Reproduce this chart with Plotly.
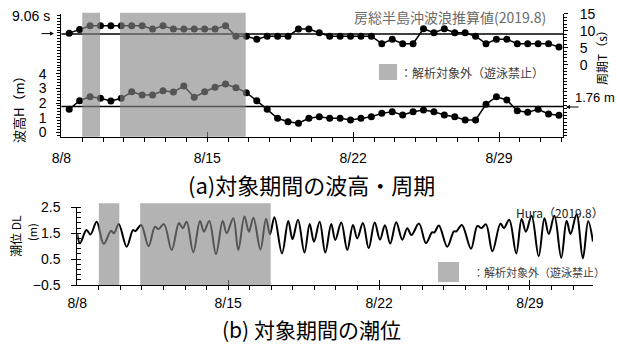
import plotly.graph_objects as go
import pandas as pd

# ---------------- data ----------------
# wave hindcast, every 12 h from 2019-08-08 09:00
wave_start = "2019-08-08 09:00"
wave_count = 48
period_T = [9.3, 10.4, 11.5, 11.5, 11.5, 11.5, 11.5, 11.5, 10.5, 11.5, 10.5, 10.5,
            10.5, 10.5, 10.5, 11.5, 8.4, 8.4, 7.5, 8.4, 8.4, 8.4, 10.5, 10.5,
            9.4, 8.4, 8.4, 8.4, 8.4, 8.4, 6.2, 7.5, 6.2, 6.2, 10.6, 9.4,
            10.6, 9.4, 9.4, 8.4, 6.2, 7.5, 7.5, 6.2, 6.2, 6.2, 6.2, 5.2]
height_H = [1.57, 2.16, 2.43, 2.32, 2.14, 2.32, 2.77, 2.55, 2.55, 2.84, 2.75, 3.16,
            2.39, 2.77, 3.08, 3.30, 3.05, 2.71, 2.16, 1.57, 0.95, 0.72, 0.61, 0.95,
            1.06, 0.95, 0.95, 0.84, 0.95, 1.06, 1.29, 1.40, 1.18, 1.40, 1.52, 1.40,
            1.18, 1.06, 0.84, 0.84, 1.91, 2.43, 2.21, 1.47, 1.36, 1.57, 1.25, 1.16]
mean_T = 9.06
mean_H = 1.76

# tide level (DL, m): turning points, hours after 2019-08-08 00:00
tide_hours = [0, 3.0, 10.2, 14.7, 21.6, 29.4, 37.5, 40.9, 46.1, 55.0, 62.0, 64.8,
              71.1, 79.3, 86.5, 90.4, 96.5, 105.1, 113.2, 117.3, 121.8, 129.1, 136.6, 141.0,
              146.9, 154.4, 161.9, 166.3, 173.7, 179.2, 186.1, 191.1, 196.1, 203.9, 210.1, 214.5,
              219.5, 227.9, 234.9, 239.6, 245.7, 252.9, 258.7, 263.5, 269.8, 276.1, 282.7, 287.2,
              293.9, 300.6, 306.9, 311.7, 318.0, 324.4, 331.1, 337.0, 342.5, 348.4, 355.1, 361.8,
              367.4, 372.0, 380.4, 388.2, 394.9, 397.6, 402.6, 411.9, 419.3, 422.1, 428.2, 438.3,
              445.5, 450.0, 455.0, 462.2, 471.1, 475.0, 480.9, 488.7, 494.7, 499.5, 505.8, 513.7,
              520.1, 524.9, 531.2, 538.8, 544.8, 549.2, 555.9, 562.9, 568.8, 574.1]
tide_level = [1.46, 1.11, 1.62, 1.45, 1.94, 1.09, 1.59, 1.50, 1.86, 0.98, 1.62, 1.58,
              1.82, 1.00, 1.75, 1.66, 1.85, 0.85, 1.89, 1.69, 1.94, 0.76, 1.97, 1.56,
              1.97, 0.70, 1.97, 1.50, 2.08, 0.85, 2.14, 1.56, 2.10, 0.87, 2.06, 1.46,
              2.12, 0.72, 1.97, 1.27, 2.02, 0.75, 1.86, 1.17, 1.94, 0.75, 1.86, 1.24,
              1.91, 0.85, 1.82, 1.30, 1.89, 0.92, 1.91, 1.25, 1.81, 1.10, 1.92, 1.25,
              1.69, 1.43, 1.87, 1.12, 1.53, 1.53, 1.80, 0.98, 1.57, 1.57, 1.82, 0.90,
              1.78, 1.70, 1.84, 0.80, 1.87, 1.70, 2.02, 0.72, 2.05, 1.56, 2.17, 0.61,
              2.08, 1.47, 2.17, 0.55, 1.98, 1.47, 2.23, 0.53, 1.96, 1.18]
tide_origin = "2019-08-08 00:00"

# excluded periods (swimming prohibited)
shade_wave = [("2019-08-09 00:00", "2019-08-09 20:30"), ("2019-08-10 19:30", "2019-08-16 20:15")]
shade_tide = [("2019-08-09 00:00", "2019-08-09 22:45"), ("2019-08-10 22:00", "2019-08-16 23:20")]

H_ticks = [0, 1, 2, 3, 4]
T_ticks = [0, 5, 10, 15]
tide_ticks = [-0.5, 0.5, 1.5, 2.5]

# ---------------- layout helpers ----------------
W, Hh = 617, 345
def px(x): return x / W
def py(y): return 1 - y / Hh

FONT = "Liberation Sans, Arial, Noto Sans CJK JP"
JFONT = "Noto Sans CJK JP, Liberation Sans"

wave_times = pd.date_range(wave_start, periods=wave_count, freq="12h")
tide_times = pd.Timestamp(tide_origin) + pd.to_timedelta(tide_hours, unit="h")

fig = go.Figure()
mk = dict(symbol="circle", size=7, color="black")
fig.add_trace(go.Scatter(x=wave_times, y=period_T, mode="lines+markers", marker=mk,
                         line=dict(color="black", width=1.5), xaxis="x", yaxis="y2",
                         showlegend=False))
fig.add_trace(go.Scatter(x=wave_times, y=height_H, mode="lines+markers", marker=mk,
                         line=dict(color="black", width=1.5), xaxis="x", yaxis="y",
                         showlegend=False))
fig.add_trace(go.Scatter(x=tide_times, y=tide_level, mode="lines",
                         line=dict(color="black", width=2, shape="spline", smoothing=1.0),
                         xaxis="x2", yaxis="y3", showlegend=False))

shapes = []
# mean lines
shapes.append(dict(type="line", xref="x domain", x0=0, x1=1, yref="y2", y0=mean_T, y1=mean_T,
                   line=dict(color="black", width=1.6), layer="below"))
shapes.append(dict(type="line", xref="x domain", x0=0, x1=1, yref="y", y0=mean_H, y1=mean_H,
                   line=dict(color="black", width=1.6), layer="below"))
SH = "rgba(135,135,135,0.63)"
for a, b in shade_wave:
    shapes.append(dict(type="rect", xref="x", x0=a, x1=b, yref="paper", y0=py(136.7), y1=py(12.7),
                       fillcolor=SH, line=dict(width=0), layer="above"))
for a, b in shade_tide:
    shapes.append(dict(type="rect", xref="x2", x0=a, x1=b, yref="paper", y0=py(285), y1=py(203.3),
                       fillcolor=SH, line=dict(width=0), layer="above"))
# legend swatches
shapes.append(dict(type="rect", xref="paper", yref="paper", x0=px(379), x1=px(397), y0=py(80), y1=py(64),
                   fillcolor="#b4b4b4", line=dict(width=0)))
shapes.append(dict(type="rect", xref="paper", yref="paper", x0=px(438), x1=px(459), y0=py(282), y1=py(262),
                   fillcolor="#b4b4b4", line=dict(width=0)))

ann = []
def A(text, x, y, size=13, color="black", xa="center", angle=0, family=JFONT, ya="middle"):
    ann.append(dict(text=text, x=px(x), y=py(y), xref="paper", yref="paper", showarrow=False,
                    xanchor=xa, yanchor=ya, textangle=angle,
                    font=dict(size=size, color=color, family=family)))

A("房総半島沖波浪推算値(2019.8)", 548, 17, 14, "#6a6a6a", "right")
A("：解析対象外（遊泳禁止）", 398, 72.5, 12, "#3c3c3c", "left")
A("9.06 s", 31, 16, 14, "black", "center", family=FONT)
A("1.76 m", 595, 97, 13, "black", "center", family=FONT)
A("波高H（m）", 18, 106, 13, "black", "center", -90)
A("周期T（s）", 601, 55, 12, "black", "center", -90)
A("(a)対象期間の波高・周期", 311, 184, 22, "black", "center")
A("潮位 DL", 15, 236, 12, "black", "center", -90)
A("(m)", 32, 232, 11, "black", "center", -90)
A("Hura（2019.8）", 606, 212, 12, "#222222", "right")
A("：解析対象外（遊泳禁止）", 471, 272, 11, "#3c3c3c", "left")
A("(b) 対象期間の潮位", 312, 328.5, 21, "black", "center")
# arrows
ann.append(dict(text="", x=px(54), y=py(33.6), xref="paper", yref="paper", showarrow=True,
                ax=-14, ay=0, arrowhead=2, arrowsize=0.8, arrowwidth=1, arrowcolor="black"))
ann.append(dict(text="", x=px(566), y=py(107), xref="paper", yref="paper", showarrow=True,
                ax=14, ay=0, arrowhead=2, arrowsize=0.8, arrowwidth=1, arrowcolor="black"))

DAY = 86400000
def xaxis_style(standoff):
    return dict(type="date", tickformat="%-m/%-d", tick0="2019-08-08", dtick=7 * DAY,
                showline=True, linecolor="black", linewidth=1, ticks="inside", ticklen=5,
                tickcolor="black", showgrid=False, zeroline=False, automargin=False,
                minor=dict(ticks="outside", ticklen=4, dtick=DAY, tick0="2019-08-08",
                           tickcolor="black", showgrid=False),
                tickfont=dict(family=FONT, size=14, color="black"), ticklabelstandoff=standoff)

fig.update_layout(
    width=W, height=Hh, margin=dict(l=0, r=0, t=0, b=0, pad=0, autoexpand=False),
    paper_bgcolor="white", plot_bgcolor="rgba(0,0,0,0)",
    font=dict(family=FONT, size=13, color="black"),
    showlegend=False,
    xaxis=dict(domain=[px(61.4), px(563)], anchor="y",
               range=["2019-08-08 00:00", "2019-09-01 01:40"], **xaxis_style(8)),
    yaxis=dict(domain=[py(136.7), py(13.5)], anchor="x", range=[-0.308, 8.13],
               tickvals=H_ticks, showline=True, linecolor="black", linewidth=1,
               ticks="outside", ticklen=4, tickcolor="black", showgrid=False, zeroline=False,
               automargin=False,
               minor=dict(ticks="outside", ticklen=3, dtick=0.2, tick0=0, tickcolor="black"),
               tickfont=dict(family=FONT, size=14), ticklabelstandoff=7),
    yaxis2=dict(overlaying="y", side="right", anchor="x", range=[-21.26, 15.1],
                tickvals=T_ticks, showline=True, linecolor="black", linewidth=1,
                ticks="outside", ticklen=4, tickcolor="black", showgrid=False, zeroline=False,
                automargin=False,
                minor=dict(ticks="outside", ticklen=3, dtick=1, tick0=0, tickcolor="black"),
                tickfont=dict(family=FONT, size=14), ticklabelstandoff=9),
    xaxis2=dict(domain=[px(77.3), px(593)], anchor="y3",
                range=["2019-08-08 00:00", "2019-08-31 22:10"], **xaxis_style(5)),
    yaxis3=dict(domain=[py(285), py(207.3)], anchor="x2", range=[-0.5, 2.5],
                tickvals=tide_ticks, showline=True, linecolor="black", linewidth=1,
                ticks="outside", ticklen=5, tickcolor="black", showgrid=False, zeroline=False,
                automargin=False,
                minor=dict(ticks="inside", ticklen=4, dtick=0.2, tick0=-0.5, tickcolor="black"),
                tickfont=dict(family=FONT, size=14), ticklabelstandoff=8),
    shapes=shapes, annotations=ann,
)

fig.write_html("out.html", config={"displayModeBar": False, "staticPlot": True},
               post_script="document.body.style.margin='0px';document.body.style.padding='0px';")
